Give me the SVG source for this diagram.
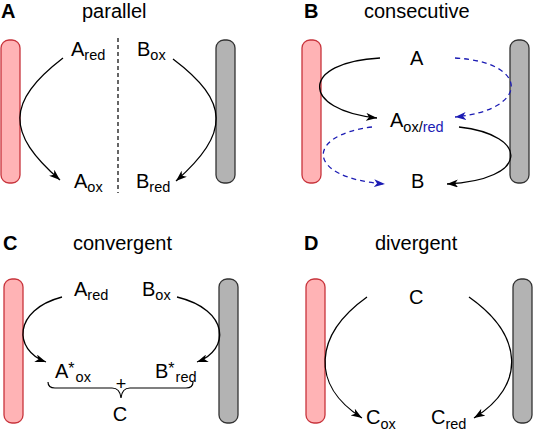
<svg xmlns="http://www.w3.org/2000/svg" width="534" height="432" viewBox="0 0 534 432">
<defs>
<style>
text{font-family:"Liberation Sans",Arial,sans-serif;fill:#000}
.lbl{font-size:20px;font-weight:bold}
.ttl{font-size:20px}
.sp{font-size:20px}
.sub{font-size:14.5px}
.red{fill:#ffb3b5;stroke:#c8343c;stroke-width:1.3}
.gray{fill:#b3b3b3;stroke:#333;stroke-width:1.3}
.arr{fill:none;stroke:#000;stroke-width:1.3;marker-end:url(#ah)}
.barr{fill:none;stroke:#1c1cb4;stroke-width:1.3;stroke-dasharray:5 4;marker-end:url(#bh)}
.blue{fill:#1c1cb4}
</style>
<marker id="ah" markerWidth="12" markerHeight="8" refX="11" refY="4" orient="auto" markerUnits="userSpaceOnUse">
<path d="M0,0 L11,4 L0,8 L3,4 Z" fill="#000"/>
</marker>
<marker id="bh" markerWidth="12" markerHeight="8" refX="11" refY="4" orient="auto" markerUnits="userSpaceOnUse">
<path d="M0,0 L11,4 L0,8 L3,4 Z" fill="#1c1cb4"/>
</marker>
</defs>

<g id="panelA">
<text class="lbl" x="1" y="18">A</text>
<text class="ttl" x="82" y="18">parallel</text>
<rect id="A-electrode-red" class="red" x="1" y="40" width="19" height="143" rx="8"/>
<rect id="A-electrode-gray" class="gray" x="216" y="40" width="19" height="143" rx="8"/>
<line x1="118" y1="38" x2="118" y2="193" stroke="#000" stroke-width="1.2" stroke-dasharray="4 3"/>
<g id="A-Ared"><text class="sp" x="71" y="56">A<tspan class="sub" dy="4">red</tspan></text></g>
<g id="A-Box"><text class="sp" x="137" y="56">B<tspan class="sub" dy="4">ox</tspan></text></g>
<g id="A-Aox"><text class="sp" x="74" y="188">A<tspan class="sub" dy="4">ox</tspan></text></g>
<g id="A-Bred"><text class="sp" x="136" y="188">B<tspan class="sub" dy="4">red</tspan></text></g>
</g>

<g id="panelB">
<text class="lbl" x="304" y="18">B</text>
<text class="ttl" x="364" y="18">consecutive</text>
<rect id="B-electrode-red" class="red" x="302" y="40" width="19" height="143" rx="8"/>
<rect id="B-electrode-gray" class="gray" x="510" y="40" width="19" height="143" rx="8"/>
<g id="B-A"><text class="sp" x="410" y="65">A</text></g>
<g id="B-Aoxred"><text class="sp" x="390" y="127">A<tspan class="sub" dy="5">ox/</tspan><tspan class="sub blue">red</tspan></text></g>
<g id="B-B"><text class="sp" x="411" y="188">B</text></g>
</g>

<g id="panelC">
<text class="lbl" x="3" y="250">C</text>
<text class="ttl" x="73" y="250">convergent</text>
<rect id="C-electrode-red" class="red" x="4" y="279" width="19" height="144" rx="8"/>
<rect id="C-electrode-gray" class="gray" x="219" y="279" width="19" height="144" rx="8"/>
<g id="C-Ared"><text class="sp" x="74" y="296">A<tspan class="sub" dy="4">red</tspan></text></g>
<g id="C-Box"><text class="sp" x="142" y="296">B<tspan class="sub" dy="4">ox</tspan></text></g>
<g id="C-Aox"><text class="sp" x="55" y="378">A<tspan class="sub" dy="-4" style="font-size:16px">*</tspan><tspan class="sub" dx="1" dy="8">ox</tspan></text></g>
<g id="C-Bred"><text class="sp" x="155" y="378">B<tspan class="sub" dy="-4" style="font-size:16px">*</tspan><tspan class="sub" dx="1" dy="8">red</tspan></text></g>
<text class="sp" x="121" y="390" text-anchor="middle" style="font-size:18px">+</text>
<path d="M48,382 Q48,388 55,388 L112,388 Q120,388 121,398 Q122,388 130,388 L186,388 Q193,388 193,382" fill="none" stroke="#000" stroke-width="1.2"/>
<g id="C-C"><text class="sp" x="120" y="421" text-anchor="middle">C</text></g>
</g>

<g id="panelD">
<text class="lbl" x="304" y="250">D</text>
<text class="ttl" x="375" y="250">divergent</text>
<rect id="D-electrode-red" class="red" x="306" y="279" width="19" height="144" rx="8"/>
<rect id="D-electrode-gray" class="gray" x="513" y="279" width="19" height="144" rx="8"/>
<g id="D-C"><text class="sp" x="409" y="304">C</text></g>
<g id="D-Cox"><text class="sp" x="366" y="424">C<tspan class="sub" dy="5">ox</tspan></text></g>
<g id="D-Cred"><text class="sp" x="431" y="424">C<tspan class="sub" dy="5">red</tspan></text></g>
</g>

<g id="connectors">
<path class="arr" d="M63,58 C6,102 6,133 60,180"/>
<path class="arr" d="M173,59 C230,102 230,133 176,181"/>
<path class="arr" d="M380,58 C300,62 300,110 377,118"/>
<path class="barr" d="M455,58 C530,62 530,110 455,117"/>
<path class="arr" d="M459,127 C530,135 530,180 447,184"/>
<path class="barr" d="M372,127 C305,135 305,178 385,184"/>
<path class="arr" d="M62,297 C13,310 13,350 46,362"/>
<path class="arr" d="M177,297 C230,310 230,350 197,362"/>
<path class="arr" d="M367,297 C314,335 310,385 362,418"/>
<path class="arr" d="M469,297 C523,335 527,385 474,418"/>
</g>
</svg>
